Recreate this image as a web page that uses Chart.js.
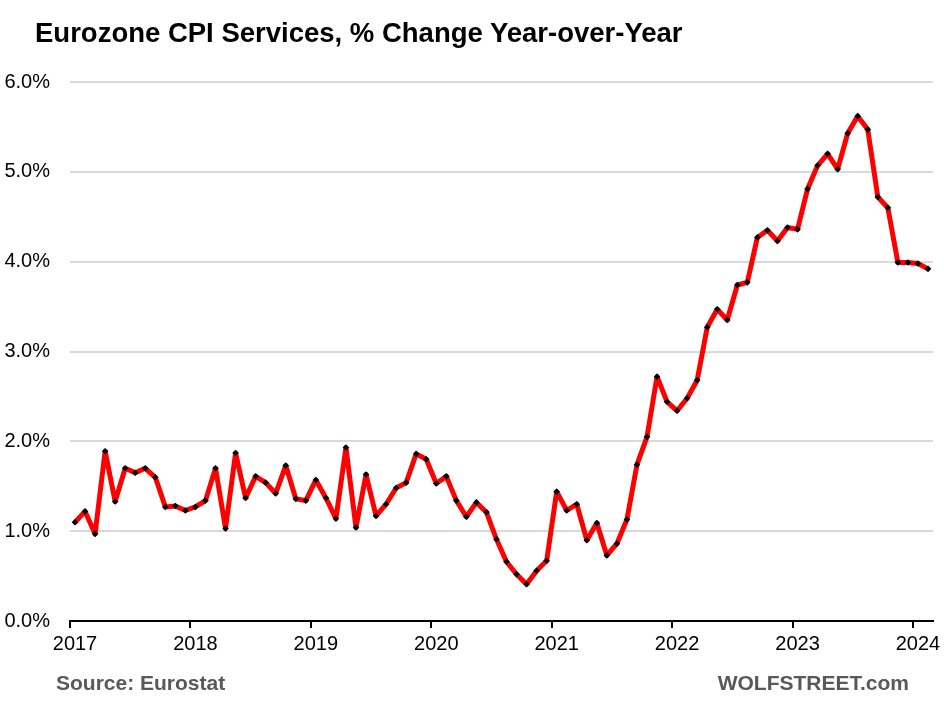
<!DOCTYPE html>
<html>
<head>
<meta charset="utf-8">
<script src="https://cdn.jsdelivr.net/npm/chart.js@4"></script>
<style>
    body { margin: 0; background: #fff; }
    #wrap { position: relative; width: 944px; height: 706px; font-family: 'Liberation Sans', Arial, sans-serif; }
    #title { position: absolute; left: 35px; top: 17px; font-size: 27.5px; font-weight: bold; color: #000; white-space: nowrap; }
    .foot { position: absolute; top: 671px; font-size: 21px; font-weight: bold; color: #595959; white-space: nowrap; }
    #source { left: 56px; }
    #brand { right: 35px; }
</style>
</head>
<body>
<div id="wrap">
    <canvas id="cpiServicesChart"></canvas>
    <div id="title">Eurozone CPI Services, % Change Year-over-Year</div>
    <div class="foot" id="source">Source: Eurostat</div>
    <div class="foot" id="brand">WOLFSTREET.com</div>
</div>
<script>
// Годы на оси X
const yearLabels = ['2017', '2018', '2019', '2020', '2021', '2022', '2023', '2024'];

// Инфляция в услугах, % г/г, по месяцам с января 2017
const cpi2017 = [1.10, 1.22, 0.97, 1.89, 1.33, 1.70, 1.65, 1.70, 1.60, 1.27, 1.28, 1.23];
const cpi2018 = [1.27, 1.34, 1.70, 1.03, 1.87, 1.37, 1.61, 1.54, 1.42, 1.73, 1.36, 1.34];
const cpi2019 = [1.57, 1.37, 1.14, 1.93, 1.04, 1.63, 1.17, 1.30, 1.48, 1.54, 1.86, 1.80];
const cpi2020 = [1.53, 1.61, 1.34, 1.16, 1.32, 1.21, 0.91, 0.66, 0.52, 0.41, 0.56, 0.67];
const cpi2021 = [1.44, 1.23, 1.30, 0.90, 1.09, 0.73, 0.86, 1.13, 1.74, 2.05, 2.72, 2.44];
const cpi2022 = [2.34, 2.48, 2.68, 3.27, 3.47, 3.35, 3.74, 3.77, 4.27, 4.35, 4.23, 4.38];
const cpi2023 = [4.36, 4.81, 5.07, 5.20, 5.03, 5.43, 5.62, 5.47, 4.72, 4.60, 3.99, 3.99];
const cpi2024 = [3.98, 3.92];

const yTicks = [0, 1, 2, 3, 4, 5, 6];

function renderCpiServicesChart() {
    const values = [].concat(cpi2017, cpi2018, cpi2019, cpi2020, cpi2021, cpi2022, cpi2023, cpi2024);
    // точка ставится в середину месяца
    const points = values.map((v, i) => ({ x: i + 0.5, y: v }));

    const ctx = document.getElementById('cpiServicesChart').getContext('2d');

    new Chart(ctx, {
        type: 'line',
        data: {
            datasets: [{
                data: points,
                borderColor: '#ff0000',
                borderWidth: 5,
                borderJoinStyle: 'round',
                borderCapStyle: 'round',
                tension: 0,
                pointStyle: 'rectRot',
                pointRadius: 3.3,
                pointBackgroundColor: '#000',
                pointBorderWidth: 0,
                pointHoverRadius: 3.3
            }]
        },
        options: {
            responsive: true,
            maintainAspectRatio: false,
            animation: false,
            layout: {
                padding: { top: 82, right: 11, bottom: 0, left: 0 }
            },
            scales: {
                x: {
                    type: 'linear',
                    min: 0,
                    max: 86,
                    afterBuildTicks: scale => {
                        scale.ticks = yearLabels.map((_, i) => ({ value: i * 12 }));
                    },
                    afterFit: scale => { scale.height = 85; },
                    ticks: {
                        callback: (v) => yearLabels[v / 12],
                        labelOffset: 5,
                        padding: 4,
                        maxRotation: 0,
                        autoSkip: false,
                        color: '#000',
                        font: { family: 'Liberation Sans', size: 20 }
                    },
                    grid: {
                        drawOnChartArea: false,
                        drawTicks: true,
                        tickLength: 7,
                        color: '#000',
                        lineWidth: 2
                    },
                    border: { display: true, color: '#000', width: 2 }
                },
                y: {
                    min: 0,
                    max: 6,
                    afterBuildTicks: scale => {
                        scale.ticks = yTicks.map(v => ({ value: v }));
                    },
                    afterFit: scale => { scale.width = 70; },
                    ticks: {
                        callback: (v) => v.toFixed(1) + '%',
                        padding: 20,
                        color: '#000',
                        font: { family: 'Liberation Sans', size: 20 }
                    },
                    grid: {
                        color: '#d9d9d9',
                        lineWidth: 2,
                        drawTicks: false
                    },
                    border: { display: false }
                }
            },
            plugins: {
                legend: { display: false },
                title: { display: false },
                tooltip: { enabled: false }
            }
        }
    });
}

renderCpiServicesChart();
</script>
</body>
</html>
